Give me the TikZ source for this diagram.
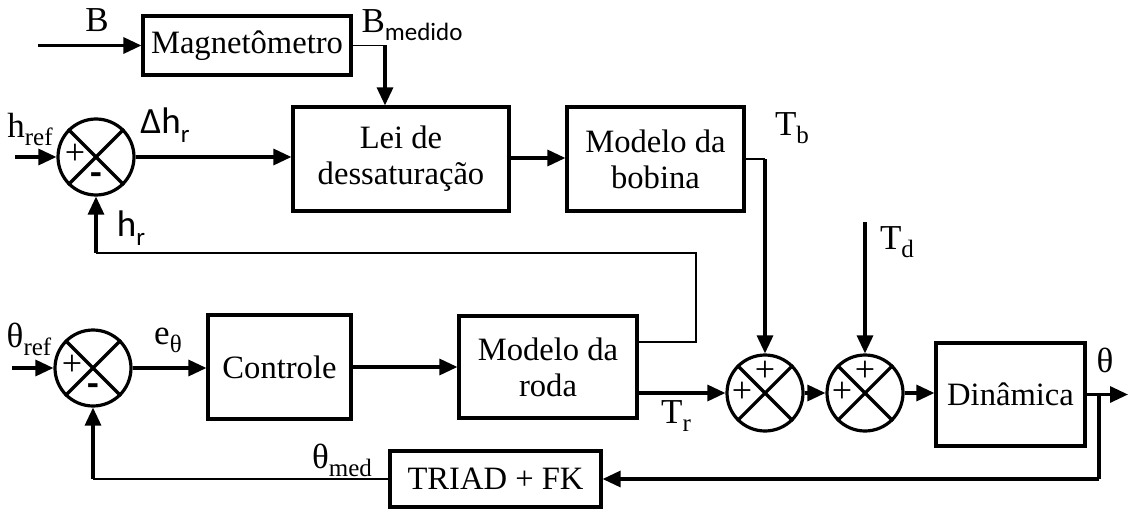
\documentclass[tikz,border=0pt]{standalone}
\usepackage{fontspec}
\setmainfont{Liberation Serif}
\newfontfamily\calib{Carlito}
\usetikzlibrary{arrows.meta}
\newcommand\lsub[1]{\raisebox{-0.5ex}{\fontsize{12.5}{13}\selectfont #1}}
\newcommand\csub[1]{\raisebox{-0.5ex}{\fontsize{12.5}{13}\selectfont\calib #1}}
\tikzset{
  blk/.style={draw, line width=1.6pt, inner sep=0pt, align=center, font=\fontsize{16.3}{18}\selectfont},
  sumj/.style={draw, circle, line width=1.6pt, minimum size=38pt, inner sep=0pt},
  arr/.style={line width=1.6pt, -{Triangle[length=9pt,width=8pt]}},
  thk/.style={line width=1.6pt},
  thn/.style={line width=0.8pt},
  lbl/.style={inner sep=0pt, font=\fontsize{17.5}{18}\selectfont},
  sgn/.style={inner sep=0pt, font=\fontsize{18}{18}\selectfont}
}
\begin{document}
\begin{tikzpicture}[x=0.5pt,y=-0.5pt]
\useasboundingbox (0,0) rectangle (1128,508);
% blocks
\node[blk, minimum width=104pt, minimum height=29.5pt] (mag) at (247,45.5) {Magnetômetro};
\node[blk, minimum width=108pt, minimum height=52pt] (lei) at (401,159) {Lei de\\dessaturação};
\node[blk, minimum width=88.5pt, minimum height=52pt] (bob) at (655.5,159) {Modelo da\\bobina};
\node[blk, minimum width=71.5pt, minimum height=52pt] (ctrl) at (279.5,367) {Controle};
\node[blk, minimum width=89pt, minimum height=51pt] (roda) at (548,367) {Modelo da\\roda};
\node[blk, minimum width=74.5pt, minimum height=51.5pt] (din) at (1010.5,394.5) {Dinâmica};
\node[blk, minimum width=105.5pt, minimum height=28pt] (triad) at (495.5,479) {TRIAD + FK};
% summing junctions
\node[sumj] (s1) at (96,157) {};
\node[sumj] (s4) at (93,368) {};
\node[sumj] (s2) at (765,393) {};
\node[sumj] (s3) at (865,393) {};
\foreach \s in {s1,s2,s3,s4}{
  \draw[thk] (\s.45) -- (\s.225) (\s.135) -- (\s.-45);
}
\node[sgn] at ([shift={(-21,-3)}]s1.center) {+};
\node[sgn,font=\fontsize{19}{19}\selectfont\bfseries\calib] at ([shift={(0,22)}]s1.center) {-};
\node[sgn] at ([shift={(-21,-3)}]s4.center) {+};
\node[sgn,font=\fontsize{19}{19}\selectfont\bfseries\calib] at ([shift={(0,22)}]s4.center) {-};
\node[sgn] at ([shift={(0,-22)}]s2.center) {+};
\node[sgn] at ([shift={(-23,-1)}]s2.center) {+};
\node[sgn] at ([shift={(0,-22)}]s3.center) {+};
\node[sgn] at ([shift={(-23,-1)}]s3.center) {+};
% free ends
\coordinate (bin) at (38,45.5);
\coordinate (href) at (15,157);
\coordinate (thref) at (12,368);
\coordinate (td) at (865,222);
\coordinate (thout) at (1128,394.5);
\coordinate (brm) at (385,45.5);
\coordinate (brb) at (765,159);
\coordinate (brr) at (696,342);
\coordinate (brt) at (1099,394.5);
% connectors
\draw[arr] (bin) -- (mag.west);
\draw[thn] (mag.east) -- (brm);
\draw[arr] (brm) -- (brm |- lei.north);
\draw[arr] (href) -- (s1.west);
\draw[arr] (s1.east) -- (s1.east -| lei.west);
\draw[arr] (lei.east |- 0,158) -- (bob.west |- 0,158);
\draw[thn] (bob.east |- brb) -- (brb);
\draw[arr] (brb) -- (s2.north);
\draw[thn] (roda.east |- brr) -- (brr) -- (696,253) -- (96,253);
\draw[arr] (96,253) -- (s1.south);
\draw[arr] (thref) -- (s4.west);
\draw[arr] (s4.east) -- (ctrl.west |- s4.east);
\draw[arr] (ctrl.east) -- (roda.west);
\draw[arr] (roda.east |- s2.west) -- (s2.west);
\draw[arr] (td) -- (s3.north);
\draw[arr] (s2.east) -- (s3.west);
\draw[arr] (s3.east) -- (din.west |- s3.east);
\draw[arr] (din.east) -- (thout);
\draw[thk] (brt) -- (brt |- triad.east);
\draw[arr] (brt |- triad.east) -- (triad.east);
\draw[thn] (triad.west) -- (93,479);
\draw[arr] (93,479) -- (s4.south);
% labels
\node[lbl] at (97,20) {B};
\node[lbl] at (412,25) {B\csub{medido}};
\node[lbl] at (30,129) {h\lsub{ref}};
\node[lbl,font=\fontsize{18.5}{19}\selectfont\calib] at (165,125) {Δh\csub{r}};
\node[lbl,font=\fontsize{18.5}{19}\selectfont\calib] at (131,228) {h\csub{r}};
\node[lbl] at (792,128) {T\lsub{b}};
\node[lbl] at (897,242) {T\lsub{d}};
\node[lbl] at (1105,360) {θ};
\node[lbl] at (676,416) {T\lsub{r}};
\node[lbl] at (342,460) {θ\lsub{med}};
\node[lbl] at (29,339) {θ\lsub{ref}};
\node[lbl] at (168,340) {e\lsub{θ}};
\end{tikzpicture}
\end{document}
